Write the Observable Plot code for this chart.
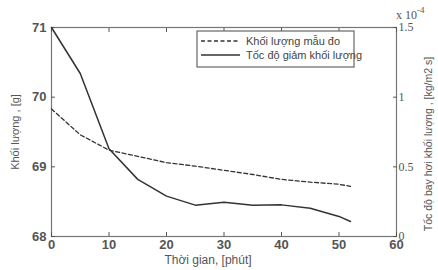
<!DOCTYPE html>
<html><head><meta charset="utf-8">
<script src="https://cdn.jsdelivr.net/npm/d3@7"></script>
<script src="https://cdn.jsdelivr.net/npm/@observablehq/plot@0.6"></script>
<style>
body{margin:0;background:#fff;}
#chart{position:relative;width:438px;height:270px;overflow:hidden;}
</style></head>
<body><div id="chart"></div>
<script>
// Dashed series: measured sample mass [g] (left axis)
const massTime = [0, 5, 10, 15, 20, 25, 30, 35, 40, 45, 50, 52];
const massValue = [69.83, 69.46, 69.24, 69.15, 69.06, 69.01, 68.95, 68.89, 68.82, 68.78, 68.75, 68.72];
// Solid series: mass loss rate [x 1e-4 kg/m2 s] (right axis)
const rateTime = [0, 5, 10, 15, 20, 25, 30, 35, 40, 45, 50, 52];
const rateValue = [1.5, 1.17, 0.63, 0.41, 0.29, 0.225, 0.246, 0.225, 0.227, 0.203, 0.144, 0.108];
const xTicks = [0, 10, 20, 30, 40, 50, 60];
const leftTicks = [68, 69, 70, 71];
const rightTicks = [0, 0.5, 1, 1.5];
const seriesNames = ["Khối lượng mẫu đo", "Tốc độ giảm khối lượng"];
const xTitle = "Thời gian, [phút]";
const yTitle = "Khối lượng , [g]";
const y2Title = "Tốc độ bay hơi khối lượng , [kg/m2 s]";

const yMin = 68, yMax = 71, rMax = 1.5;
const toLeft = r => yMin + r / rMax * (yMax - yMin);
const toRight = g => (g - yMin) / (yMax - yMin) * rMax;

const massData = massTime.map((t, i) => ({t, v: massValue[i]}));
const rateData = rateTime.map((t, i) => ({t, v: toLeft(rateValue[i])}));

const grey = "#555";
const font = "'Liberation Sans', Arial, sans-serif";

const plot = Plot.plot({
  width: 438, height: 270,
  marginLeft: 51, marginRight: 42, marginTop: 27, marginBottom: 34,
  style: {fontFamily: font, fontSize: "12px", color: grey, background: "#fff"},
  x: {domain: [0, 60]},
  y: {domain: [yMin, yMax]},
  marks: [
    Plot.frame({stroke: "#777", strokeWidth: 1.2}),
    Plot.axisX({anchor: "bottom", ticks: xTicks, tickSize: -4, tickPadding: 7, tickFormat: d3.format("d"), label: null, fontWeight: "bold", fontSize: 13}),
    Plot.axisX({anchor: "top", ticks: xTicks, tickSize: -4, tickFormat: () => "", label: null}),
    Plot.axisY({anchor: "left", ticks: leftTicks, tickSize: -4, tickPadding: 9, tickFormat: d3.format("d"), label: null, fontWeight: "bold", fontSize: 13}),
    Plot.axisY({anchor: "right", ticks: rightTicks.map(toLeft), tickSize: -4, tickPadding: 6, tickFormat: g => String(+toRight(g).toFixed(2)), label: null, fontFamily: "'Liberation Serif', serif", fontSize: 12}),
    Plot.line(massData, {x: "t", y: "v", stroke: "#333", strokeWidth: 1.3, strokeDasharray: "4,2.5"}),
    Plot.line(rateData, {x: "t", y: "v", stroke: "#333", strokeWidth: 1.5}),
    Plot.text([xTitle], {frameAnchor: "bottom", textAnchor: "middle", dx: -16, dy: 27, fontSize: 12, fill: grey}),
    Plot.text([yTitle], {frameAnchor: "left", textAnchor: "middle", rotate: -90, dx: -36, dy: 0, fontSize: 11, fill: grey}),
    Plot.text([y2Title], {frameAnchor: "right", textAnchor: "middle", rotate: -90, dx: 32, dy: 12, fontSize: 10.5, fill: grey})
  ]
});
document.getElementById("chart").appendChild(plot);

const svg = d3.select(plot);
const lg = svg.append("g").attr("transform", "translate(197,31)");
lg.append("rect").attr("width", 157).attr("height", 36).attr("fill", "#fff").attr("stroke", "#666").attr("stroke-width", 1.2);
seriesNames.forEach((name, i) => {
  const yy = 10 + i * 14;
  lg.append("line").attr("x1", 4).attr("x2", 43).attr("y1", yy).attr("y2", yy)
    .attr("stroke", "#333").attr("stroke-width", i ? 1.6 : 1.3).attr("stroke-dasharray", i ? null : "4,2.5");
  lg.append("text").attr("x", 49).attr("y", yy + 4).attr("text-anchor", "start").text(name)
    .attr("font-family", font).attr("font-size", 11).attr("fill", "#444");
});
const ex = svg.append("text").attr("x", 396).attr("y", 19).attr("text-anchor", "start").attr("font-family", "'Liberation Serif', serif").attr("font-size", 12).attr("fill", grey);
ex.append("tspan").text("x 10");
ex.append("tspan").attr("dy", -6).attr("font-size", 9).text("-4");
</script></body></html>
